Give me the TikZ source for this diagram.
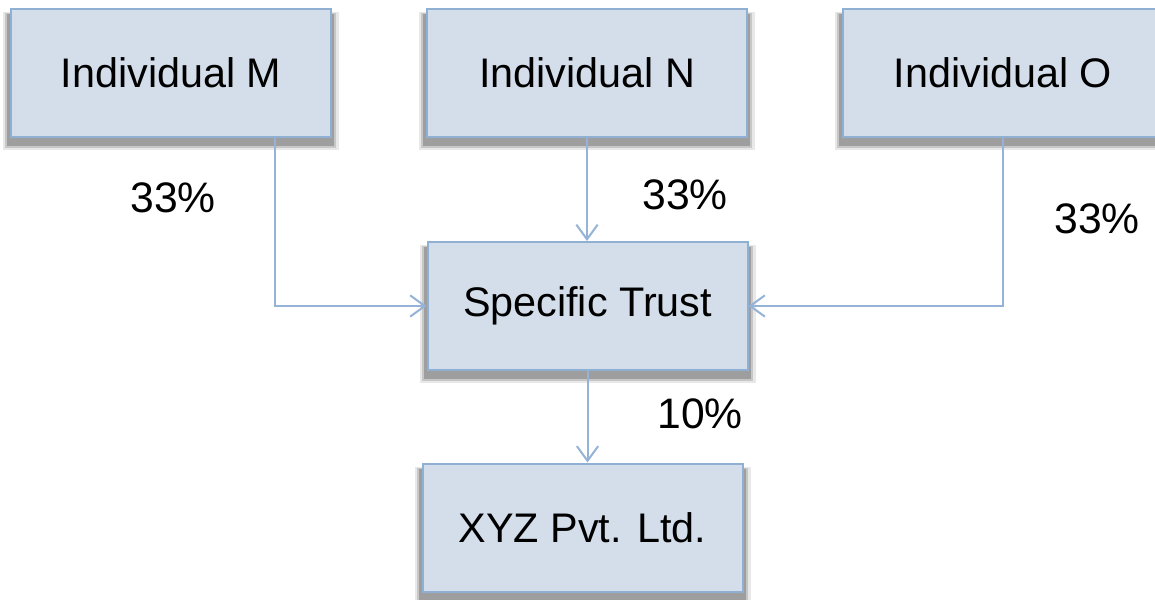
\documentclass[tikz,border=0pt]{standalone}
\usepackage{fontspec}
\setmainfont{Liberation Sans}
\usetikzlibrary{arrows.meta,backgrounds,calc}

\definecolor{boxfill}{HTML}{D3DEEA}
\definecolor{boxline}{HTML}{8FB0D3}
\definecolor{wire}{HTML}{95B3D7}

\begin{document}
\begin{tikzpicture}[x=0.75pt,y=-0.75pt,
  entity/.style={draw=boxline, line width=1.5pt, fill=boxfill,
    minimum width=240pt, minimum height=96pt, inner sep=0pt,
    font=\fontsize{31}{36}\selectfont},
  share/.style={inner sep=0pt, font=\fontsize{32}{36}\selectfont},
  link/.style={draw=wire, line width=1.5pt,
    -{Straight Barb[length=11pt,width=16pt,line width=1.5pt]}}]

  \path[use as bounding box, clip] (0,0) rectangle (1155,599);

  % boxes
  \node[entity] (m) at (171,73) {Individual M};
  \node[entity] (n) at (587,73) {Individual N};
  \node[entity] (o) at (1003,73) {Individual O};
  \node[entity] (t) at (587.5,306) {Specific Trust};
  \node[entity] (x) at (582.5,527.5) {XYZ Pvt. Ltd.};

  % white canvas and soft drop shadows behind the boxes
  \begin{pgfonlayer}{background}
    \fill[white] (0,0) rectangle (1155,599);
    \foreach \b in {m,n,o,t,x}{
      \fill[black!9]  ($(\b.north west)+(-7,4)$) rectangle ($(\b.south east)+(7,12)$);
      \fill[black!22] ($(\b.north west)+(-5,5)$) rectangle ($(\b.south east)+(4,10)$);
      \fill[black!38] ($(\b.north west)+(-3,6)$) rectangle ($(\b.south east)+(2,8)$);
    }
  \end{pgfonlayer}

  % shares
  \node[share] (pm) at (173,198) {33\%};
  \node[share] (pn) at (685,195) {33\%};
  \node[share] (po) at (1097,219) {33\%};
  \node[share] (pt) at (700,414) {10\%};

  % ownership links
  \coordinate (mx) at (275,0);
  \draw[link] (m.south -| mx) |- (t.west);
  \draw[link] (n.south) -- (n.south |- t.north);
  \draw[link] (o.south) |- (t.east);
  \draw[link] (t.south) -- (t.south |- x.north);
\end{tikzpicture}
\end{document}
